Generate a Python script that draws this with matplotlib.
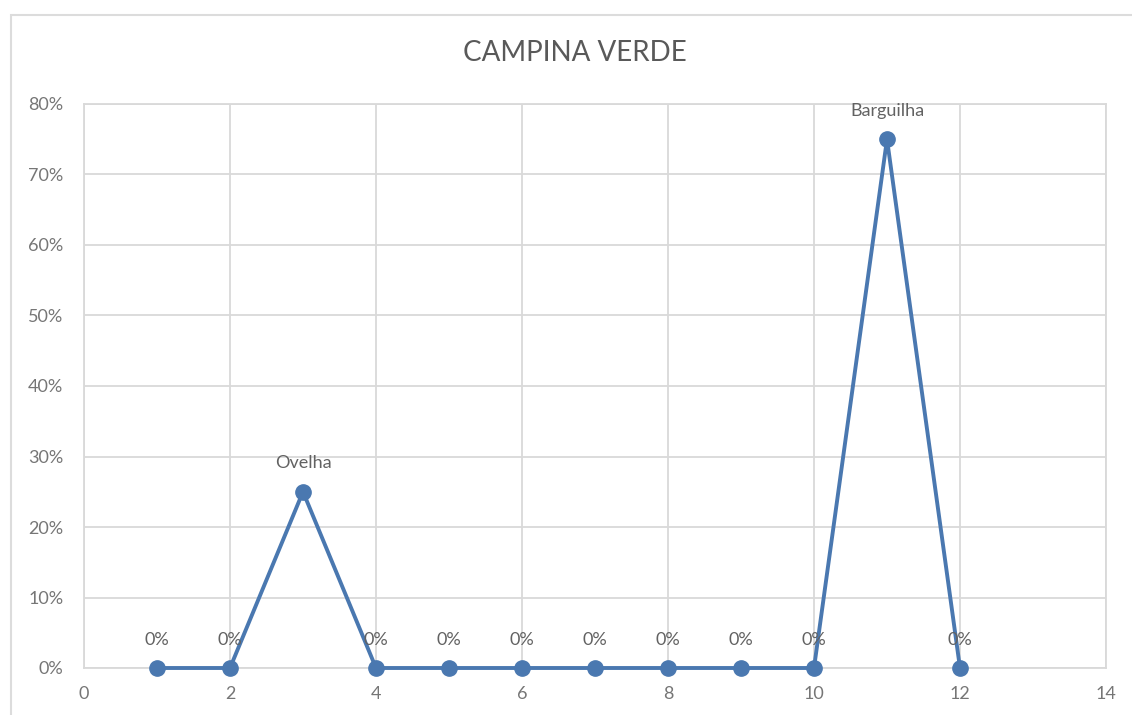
import matplotlib
matplotlib.use("Agg")
import matplotlib.pyplot as plt
from matplotlib.patches import Rectangle
from matplotlib.ticker import FuncFormatter, MultipleLocator

plt.rcParams['font.family'] = ['Lato', 'DejaVu Sans']

title = "CAMPINA VERDE"
x_vals = [1, 2, 3, 4, 5, 6, 7, 8, 9, 10, 11, 12]
y_vals = [0, 0, 0.25, 0, 0, 0, 0, 0, 0, 0, 0.75, 0]
point_labels = ["0%", "0%", "Ovelha", "0%", "0%", "0%", "0%", "0%", "0%", "0%", "Barguilha", "0%"]

line_color = "#4a78b0"
title_color = "#595959"
label_color = "#626262"
tick_color = "#767676"
grid_color = "#d9d9d9"

fig = plt.figure(figsize=(11.32, 7.15), dpi=100)
fig.patch.set_facecolor("white")

# chart frame
W, H = 1132, 715
fig.patches.append(Rectangle((11 / W, -0.05), 1.2, (H - 15) / H + 0.05,
                             transform=fig.transFigure, fill=False,
                             edgecolor="#dcdcdc", linewidth=1.5))

ax = fig.add_axes([84 / W, (H - 668) / H, (1106 - 84) / W, (668 - 104) / H])
ax.plot(x_vals, y_vals, color=line_color, linewidth=2.8, marker="o",
        markersize=11, markerfacecolor=line_color, markeredgecolor=line_color,
        zorder=3, clip_on=False)

for x, y, lab in zip(x_vals, y_vals, point_labels):
    ax.annotate(lab, (x, y), xytext=(0, 20.5), textcoords="offset points",
                ha="center", va="center", fontsize=13, color=label_color,
                zorder=4)

ax.set_xlim(0, 14)
ax.set_ylim(0, 0.8)
ax.xaxis.set_major_locator(MultipleLocator(2))
ax.yaxis.set_major_locator(MultipleLocator(0.1))
ax.yaxis.set_major_formatter(FuncFormatter(lambda v, p: f"{v * 100:.0f}%"))
ax.grid(True, color=grid_color, linewidth=1.3, zorder=0)
ax.set_axisbelow(True)
for s in ax.spines.values():
    s.set_color(grid_color)
    s.set_linewidth(1.3)
ax.tick_params(length=0, labelsize=13, labelcolor=tick_color)
ax.tick_params(axis="x", pad=13)
ax.tick_params(axis="y", pad=15)

fig.text(575 / W, 1 - 53 / H, title, ha="center", va="center",
         fontsize=20, color=title_color)

fig.savefig("out.png", dpi=100)
